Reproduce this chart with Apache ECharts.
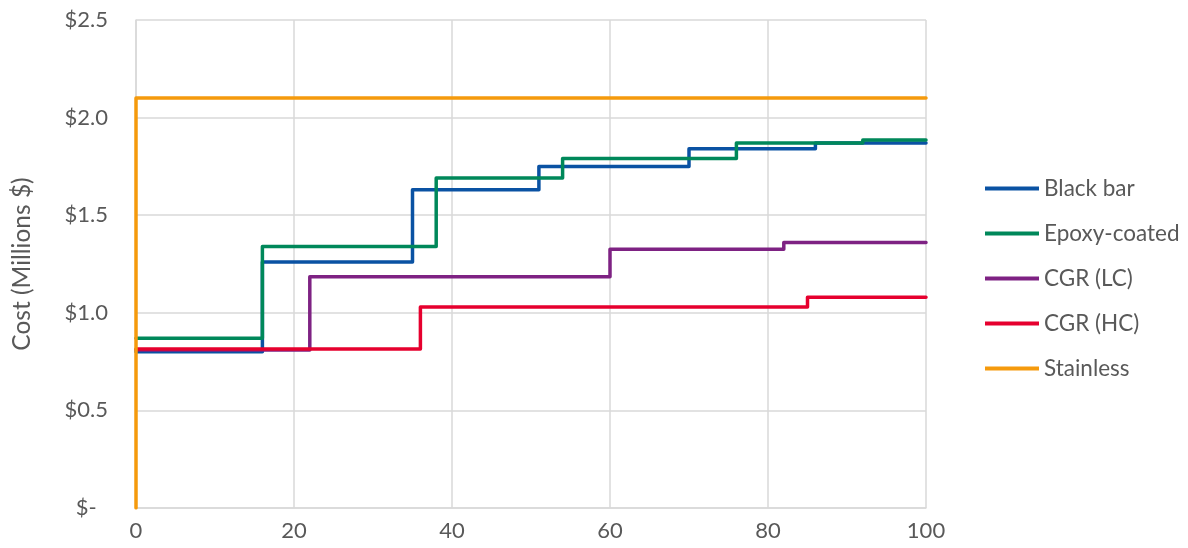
<!DOCTYPE html>
<html>
<head>
<meta charset="utf-8">
<script src="https://cdn.jsdelivr.net/npm/echarts@6/dist/echarts.min.js"></script>
<style>
  html, body { margin: 0; padding: 0; background: #fff; }
  #chart { width: 1188px; height: 548px; }
</style>
</head>
<body>
<div id="chart"></div>
<script>
// Step breakpoints (x) and the level held from each breakpoint to the next
const seriesNames = ['Black bar', 'Epoxy-coated', 'CGR (LC)', 'CGR (HC)', 'Stainless'];
const blackX = [0, 16, 35, 51, 70, 86, 100];
const blackY = [0.80, 1.26, 1.63, 1.75, 1.84, 1.87, 1.87];
const epoxyX = [0, 16, 38, 54, 76, 92, 100];
const epoxyY = [0.87, 1.34, 1.69, 1.79, 1.87, 1.885, 1.885];
const cgrLcX = [0, 22, 60, 82, 100];
const cgrLcY = [0.81, 1.185, 1.325, 1.36, 1.36];
const cgrHcX = [0, 36, 85, 100];
const cgrHcY = [0.815, 1.03, 1.08, 1.08];
const stainlessX = [0, 0, 100];
const stainlessY = [0, 2.1, 2.1];
const yTicks = [0, 0.5, 1.0, 1.5, 2.0, 2.5];
const xTicks = [0, 20, 40, 60, 80, 100];

const colors = ['#0a52a3', '#00885a', '#7e2283', '#e6002e', '#f59a0c'];
const xs = [blackX, epoxyX, cgrLcX, cgrHcX, stainlessX];
const ys = [blackY, epoxyY, cgrLcY, cgrHcY, stainlessY];

const FONT = 'Lato';
const TXT = '#595959';

const chart = echarts.init(document.getElementById('chart'));
chart.setOption({
  animation: false,
  color: colors,
  grid: { left: 136, right: 262, top: 20, bottom: 40 },
  xAxis: {
    type: 'value', min: 0, max: 100, interval: 20,
    axisLine: { show: true, lineStyle: { color: '#d9d9d9', width: 1.5 } },
    axisTick: { show: false },
    splitLine: { show: true, lineStyle: { color: '#d9d9d9', width: 1.5 } },
    axisLabel: { color: TXT, fontFamily: FONT, fontSize: 22, margin: 12,
      formatter: v => xTicks.includes(v) ? String(v) : '' }
  },
  yAxis: {
    type: 'value', min: 0, max: 2.5, interval: 0.5,
    name: 'Cost (Millions $)', nameLocation: 'middle', nameGap: 101,
    nameTextStyle: { color: TXT, fontFamily: FONT, fontSize: 24.5 },
    axisLine: { show: true, lineStyle: { color: '#d9d9d9', width: 1.5 } },
    axisTick: { show: false },
    splitLine: { show: true, lineStyle: { color: '#d9d9d9', width: 1.5 } },
    axisLabel: { color: TXT, fontFamily: FONT, fontSize: 22, margin: 28,
      formatter: v => {
        const t = yTicks.find(k => Math.abs(k - v) < 1e-9);
        if (t === undefined) return '';
        return t === 0 ? '$-  ' : '$' + t.toFixed(1);
      } }
  },
  legend: {
    orient: 'vertical', left: 980, top: 171,
    icon: 'rect', itemWidth: 54, itemHeight: 4, itemGap: 20,
    textStyle: { color: TXT, fontFamily: FONT, fontSize: 22.5, lineHeight: 25 },
    data: seriesNames
  },
  series: seriesNames.map((name, i) => ({
    name, type: 'line', step: 'end', showSymbol: false, symbol: 'none',
    data: xs[i].map((x, j) => [x, ys[i][j]]),
    lineStyle: { width: 3.5, color: colors[i], cap: 'round', join: 'round' },
    itemStyle: { color: colors[i] }
  }))
});
</script>
</body>
</html>
